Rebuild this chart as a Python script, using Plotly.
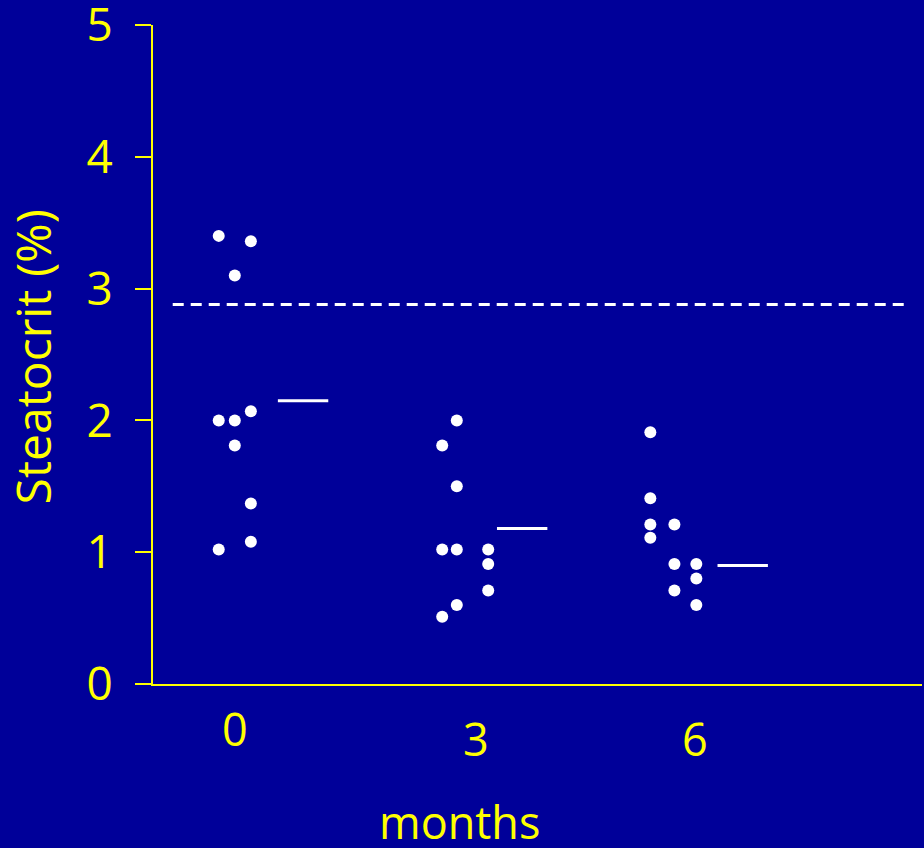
import plotly.graph_objects as go

# Steatocrit (%) measured at 0, 3 and 6 months
months = ["0", "3", "6"]
steatocrit = [
    [3.40, 3.36, 3.10, 2.00, 2.00, 2.07, 1.81, 1.37, 1.08, 1.02],
    [2.00, 1.81, 1.50, 1.02, 1.02, 1.02, 0.91, 0.71, 0.60, 0.51],
    [1.91, 1.41, 1.21, 1.21, 1.11, 0.91, 0.91, 0.80, 0.71, 0.60],
]
group_means = [2.15, 1.18, 0.90]
upper_normal = 2.88

# horizontal placement of each dot (columns of the dot plot), in axis units
dot_x = [
    [-0.22, 0.22, 0.00, -0.22, 0.00, 0.22, 0.00, 0.22, 0.22, -0.22],
    [3.04, 2.84, 3.04, 2.84, 3.04, 3.47, 3.47, 3.47, 3.04, 2.84],
    [5.69, 5.69, 5.69, 6.02, 5.69, 6.02, 6.32, 6.32, 6.02, 6.32],
]
mean_bar_start = [0.59, 3.59, 6.61]
mean_bar_len = 0.69
label_x = [0.0, 3.30, 6.30]
label_y = [-0.067, -0.082, -0.082]   # paper units below the x axis

BG = "#000099"
YELLOW = "#FFFF00"
FONT = "Open Sans, Noto Sans, sans-serif"

fig = go.Figure()

# reference limit
fig.add_trace(go.Scatter(
    x=[-0.85, 9.23], y=[upper_normal, upper_normal], mode="lines",
    line=dict(color="white", width=3, dash="11px,7px"),
    hoverinfo="skip", showlegend=False,
))

for i, vals in enumerate(steatocrit):
    fig.add_trace(go.Scatter(
        x=dot_x[i], y=vals, mode="markers",
        marker=dict(color="white", size=12, line=dict(width=0)),
        name=months[i] + " months", showlegend=False,
    ))
    x0 = mean_bar_start[i]
    fig.add_trace(go.Scatter(
        x=[x0, x0 + mean_bar_len], y=[group_means[i], group_means[i]],
        mode="lines", line=dict(color="white", width=3),
        hoverinfo="skip", showlegend=False,
    ))

# month labels under the axis
for i, m in enumerate(months):
    fig.add_annotation(
        x=label_x[i], y=label_y[i], xref="x", yref="paper", text=m,
        showarrow=False, xanchor="center", yanchor="middle",
        font=dict(family=FONT, size=45, color=YELLOW),
    )

fig.add_annotation(
    x=0.399, y=-0.208, xref="paper", yref="paper", text="months",
    showarrow=False, xanchor="center", yanchor="middle",
    font=dict(family=FONT, size=45, color=YELLOW),
)
fig.add_annotation(
    x=-0.157, y=0.496, xref="paper", yref="paper", text="Steatocrit (%)",
    textangle=-90, showarrow=False, xanchor="center", yanchor="middle",
    font=dict(family=FONT, size=48, color=YELLOW),
)

fig.update_layout(
    width=924, height=848,
    margin=dict(l=153, r=2, t=25, b=164),
    paper_bgcolor=BG, plot_bgcolor=BG,
    font=dict(family=FONT, color=YELLOW),
    showlegend=False,
)
fig.update_xaxes(
    range=[-1.12, 9.41], showgrid=False, zeroline=False,
    showline=True, linecolor=YELLOW, linewidth=2,
    showticklabels=False, ticks="", automargin=False,
)
fig.update_yaxes(
    range=[0, 5], showgrid=False, zeroline=False,
    showline=True, linecolor=YELLOW, linewidth=2,
    tickmode="array", tickvals=[0, 1, 2, 3, 4, 5],
    ticks="outside", ticklen=16, tickcolor=YELLOW, tickwidth=2,
    tickfont=dict(family=FONT, size=46, color=YELLOW),
    ticklabelstandoff=13, ticklabeloverflow="allow", automargin=False,
)

fig.write_html("out.html")
